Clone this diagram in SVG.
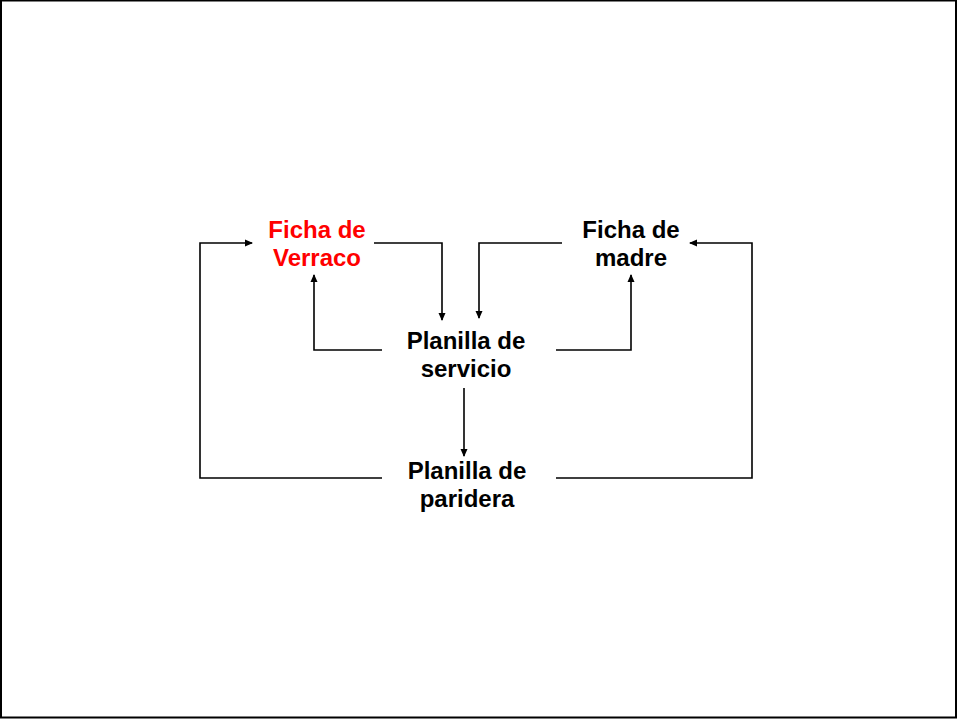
<svg xmlns="http://www.w3.org/2000/svg" width="957" height="719" viewBox="0 0 957 719">
<defs>
<marker id="ah" markerWidth="8" markerHeight="8" refX="7" refY="4" orient="auto" markerUnits="userSpaceOnUse">
<path d="M0,0.5 L8,4 L0,7.5 Z" fill="#000"/>
</marker>
</defs>
<style>
text{font-family:"Liberation Sans",Arial,sans-serif;font-weight:bold;font-size:24px;text-anchor:middle;fill:#000}
.red{fill:#ff0000}
.c{fill:none;stroke:#000;stroke-width:1.6}
</style>
<rect x="1" y="0.5" width="955" height="717" fill="#fff" stroke="#000" stroke-width="2"/>
<g id="connectors">
<polyline class="c" points="382,478 200,478 200,243 252,243" marker-end="url(#ah)"/>
<polyline class="c" points="374,243 442,243 442,320" marker-end="url(#ah)"/>
<polyline class="c" points="382,350 314,350 314,275" marker-end="url(#ah)"/>
<polyline class="c" points="562,243 479,243 479,318" marker-end="url(#ah)"/>
<polyline class="c" points="556,350 631,350 631,275" marker-end="url(#ah)"/>
<polyline class="c" points="556,478 752,478 752,243 690,243" marker-end="url(#ah)"/>
<polyline class="c" points="464,388 464,456" marker-end="url(#ah)"/>
</g>
<g id="ficha-verraco">
<text class="red" x="317" y="238">Ficha de</text>
<text class="red" x="317" y="266">Verraco</text>
</g>
<g id="ficha-madre">
<text x="631" y="238">Ficha de</text>
<text x="631" y="266">madre</text>
</g>
<g id="planilla-servicio">
<text x="466" y="349">Planilla de</text>
<text x="466" y="377">servicio</text>
</g>
<g id="planilla-paridera">
<text x="467" y="479">Planilla de</text>
<text x="467" y="507">paridera</text>
</g>
</svg>
